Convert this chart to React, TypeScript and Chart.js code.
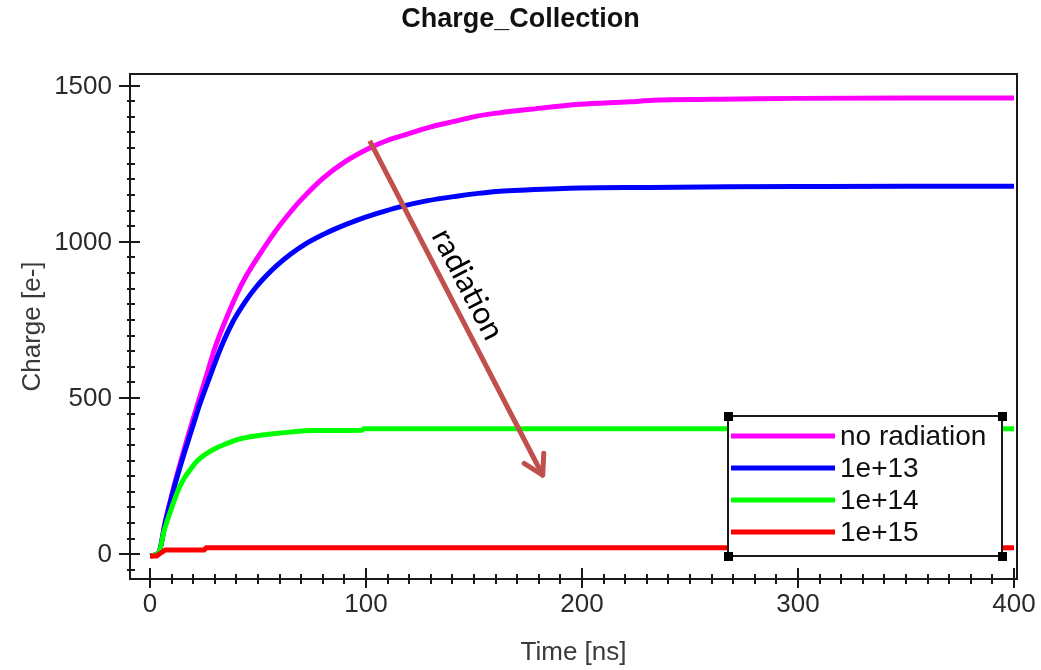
import React, { useEffect, useRef } from "react";
import { Chart, registerables } from "chart.js";

Chart.register(...registerables);

// ---------- text ----------
const TITLE = "Charge_Collection";
const X_TITLE = "Time [ns]";
const Y_TITLE = "Charge [e-]";
const ARROW_LABEL = "radiation";

// ---------- series ----------
const SERIES_LABELS = ["no radiation", "1e+13", "1e+14", "1e+15"];
const SERIES_COLORS = ["#ff00ff", "#0000ff", "#00ff00", "#ff0000"];

const noRadTime = [0, 4, 7, 10.6, 13.7, 16.8, 20, 23, 26.9, 30, 33.8, 40, 44.6, 50, 55.4, 60, 64.7, 70, 80, 90, 101.7, 110, 118.7, 130, 141.9, 152, 162, 176, 199, 222, 233, 260, 280, 300, 350, 400];
const noRadCharge = [-5, 5, 105, 205, 285, 360, 435, 503, 590, 660, 730, 830, 892, 952, 1008, 1052, 1093, 1135, 1203, 1255, 1300, 1325, 1344, 1368, 1387, 1403, 1413, 1424, 1440, 1448, 1453, 1456, 1458, 1459, 1460, 1460];

const e13Time = [0, 4, 7, 10.6, 13.7, 16.8, 20, 23, 27.6, 33, 38.4, 44, 49.3, 54, 58.5, 65, 72.4, 80, 86.3, 95, 104.8, 115.6, 128, 141.9, 152, 162, 174, 199, 230, 268, 300, 350, 400];
const e13Charge = [-5, 5, 100, 200, 275, 345, 415, 480, 567, 665, 745, 808, 857, 893, 923, 960, 995, 1023, 1043, 1067, 1090, 1112, 1131, 1146, 1155, 1162, 1166, 1172, 1174, 1176, 1177, 1178, 1178];

const e14Time = [0, 4, 6.5, 9.1, 11.5, 13.7, 16, 18.4, 22, 26.1, 30, 35.4, 40, 46.2, 51, 57, 65, 75.5, 98, 99, 400];
const e14Charge = [-5, 5, 75, 131, 178, 216, 246, 269, 300, 322, 338, 354, 366, 376, 381, 386, 391, 396, 397, 402, 402];

const e15Time = [0, 3, 5, 7, 25, 26, 400];
const e15Charge = [-5, -5, 4, 14, 14, 21, 21];

const SERIES_TIMES = [noRadTime, e13Time, e14Time, e15Time];
const SERIES_CHARGES = [noRadCharge, e13Charge, e14Charge, e15Charge];
const SERIES_SMOOTH = [true, true, true, false];

// ---------- axes ----------
const X_MIN = -9.3;
const X_MAX = 401.4;
const Y_MIN = -79;
const Y_MAX = 1537;
const X_TICKS = [0, 100, 200, 300, 400];
const Y_TICKS = [0, 500, 1000, 1500];
const X_MINOR_STEP = 10;
const Y_MINOR_STEP = 50;

// ---------- annotation (data coordinates) ----------
const ARROW_FROM = { x: 101.7, y: 1323 };
const ARROW_TO = { x: 181.8, y: 253 };
const ARROW_LABEL_AT = { x: 147, y: 864 };

const FONT = "'Liberation Sans', Arial, sans-serif";

const decorPlugin = {
  id: "decor",
  afterDatasetsDraw(chart: any) {
    const ctx: CanvasRenderingContext2D = chart.ctx;
    const { left, right, top, bottom } = chart.chartArea;
    const xs = chart.scales.x;
    const ys = chart.scales.y;
    ctx.save();

    // frame
    ctx.strokeStyle = "#1a1a1a";
    ctx.lineWidth = 2;
    ctx.strokeRect(left, top, right - left, bottom - top);

    // y ticks
    for (let v = Math.ceil(Y_MIN / Y_MINOR_STEP) * Y_MINOR_STEP; v <= Y_MAX; v += Y_MINOR_STEP) {
      const py = Math.round(ys.getPixelForValue(v));
      const major = Y_TICKS.includes(v);
      ctx.beginPath();
      ctx.moveTo(left - (major ? 11 : 3), py);
      ctx.lineTo(left + (major ? 10 : 5), py);
      ctx.stroke();
    }
    // x ticks
    for (let v = Math.ceil(X_MIN / X_MINOR_STEP) * X_MINOR_STEP; v <= X_MAX; v += X_MINOR_STEP) {
      const px = Math.round(xs.getPixelForValue(v));
      const major = X_TICKS.includes(v);
      ctx.beginPath();
      ctx.moveTo(px, bottom - (major ? 11 : 5));
      ctx.lineTo(px, bottom + (major ? 9 : 5));
      ctx.stroke();
    }

    // tick labels
    ctx.fillStyle = "#2a2a2a";
    ctx.font = `26px ${FONT}`;
    ctx.textAlign = "right";
    ctx.textBaseline = "middle";
    for (const v of Y_TICKS) {
      ctx.fillText(String(v), left - 18, ys.getPixelForValue(v) + 1);
    }
    ctx.textAlign = "center";
    for (const v of X_TICKS) {
      ctx.fillText(String(v), xs.getPixelForValue(v), bottom + 26);
    }

    // axis titles
    ctx.fillStyle = "#3a3a3a";
    ctx.font = `26px ${FONT}`;
    ctx.fillText(X_TITLE, (left + right) / 2, 653);
    ctx.save();
    ctx.translate(33, (top + bottom) / 2);
    ctx.rotate(-Math.PI / 2);
    ctx.fillText(Y_TITLE, 0, 0);
    ctx.restore();

    // title
    ctx.fillStyle = "#111";
    ctx.font = `bold 27px ${FONT}`;
    ctx.fillText(TITLE, chart.width / 2, 20);

    // legend
    const lx0 = 728, ly0 = 416, lx1 = 1002, ly1 = 556;
    ctx.fillStyle = "#fff";
    ctx.fillRect(lx0, ly0, lx1 - lx0, ly1 - ly0);
    ctx.strokeStyle = "#1a1a1a";
    ctx.lineWidth = 2;
    ctx.strokeRect(lx0, ly0, lx1 - lx0, ly1 - ly0);
    ctx.fillStyle = "#000";
    for (const [cx, cy] of [[lx0, ly0], [lx1, ly0], [lx0, ly1], [lx1, ly1]]) {
      ctx.fillRect(cx - 4, cy - 4, 9, 9);
    }
    ctx.font = `28px ${FONT}`;
    ctx.textAlign = "left";
    ctx.textBaseline = "middle";
    chart.data.datasets.forEach((ds: any, i: number) => {
      const ry = 436 + i * 32;
      ctx.strokeStyle = ds.borderColor;
      ctx.lineWidth = 5;
      ctx.beginPath();
      ctx.moveTo(731, ry);
      ctx.lineTo(835, ry);
      ctx.stroke();
      ctx.fillStyle = "#111";
      ctx.fillText(ds.label, 840, ry + 1);
    });

    // arrow annotation
    const ax0 = xs.getPixelForValue(ARROW_FROM.x);
    const ay0 = ys.getPixelForValue(ARROW_FROM.y);
    const ax1 = xs.getPixelForValue(ARROW_TO.x);
    const ay1 = ys.getPixelForValue(ARROW_TO.y);
    const ang = Math.atan2(ay1 - ay0, ax1 - ax0);
    ctx.strokeStyle = "#c0504d";
    ctx.lineWidth = 5;
    ctx.lineCap = "butt";
    ctx.beginPath();
    ctx.moveTo(ax0, ay0);
    ctx.lineTo(ax1, ay1);
    ctx.stroke();
    ctx.lineCap = "round";
    ctx.beginPath();
    const headLen = 22;
    for (const s of [-1, 1]) {
      const a = ang + Math.PI + s * (Math.PI / 6);
      ctx.moveTo(ax1, ay1);
      ctx.lineTo(ax1 + headLen * Math.cos(a), ay1 + headLen * Math.sin(a));
    }
    ctx.stroke();

    ctx.save();
    ctx.translate(xs.getPixelForValue(ARROW_LABEL_AT.x), ys.getPixelForValue(ARROW_LABEL_AT.y));
    ctx.rotate(ang);
    ctx.fillStyle = "#000";
    ctx.font = `31px Lato, 'Open Sans', sans-serif`;
    ctx.textAlign = "center";
    ctx.textBaseline = "middle";
    ctx.fillText(ARROW_LABEL, 0, 0);
    ctx.restore();

    ctx.restore();
  },
};

export default function App() {
  const ref = useRef<HTMLCanvasElement | null>(null);
  useEffect(() => {
    if (!ref.current) return;
    const datasets = SERIES_LABELS.map((label, i) => ({
      label,
      data: SERIES_TIMES[i].map((t, k) => ({ x: t, y: SERIES_CHARGES[i][k] })),
      borderColor: SERIES_COLORS[i],
      backgroundColor: SERIES_COLORS[i],
      borderWidth: 5,
      pointRadius: 0,
      tension: 0,
      cubicInterpolationMode: SERIES_SMOOTH[i] ? ("monotone" as const) : ("default" as const),
      fill: false,
      order: SERIES_LABELS.length - i,
    }));
    const chart = new Chart(ref.current, {
      type: "line",
      data: { datasets },
      options: {
        responsive: false,
        devicePixelRatio: 1,
        animation: false,
        layout: { padding: { left: 130, top: 74, right: 24, bottom: 91 } },
        plugins: { legend: { display: false }, title: { display: false }, tooltip: { enabled: false } },
        scales: {
          x: { type: "linear", min: X_MIN, max: X_MAX, display: false },
          y: { type: "linear", min: Y_MIN, max: Y_MAX, display: false },
        },
      },
      plugins: [decorPlugin],
    });
    return () => chart.destroy();
  }, []);
  return (
    <div style={{ position: "fixed", left: 0, top: 0, width: 1041, height: 670, background: "#fff" }}>
      <canvas ref={ref} width={1041} height={670} style={{ display: "block" }} />
    </div>
  );
}
